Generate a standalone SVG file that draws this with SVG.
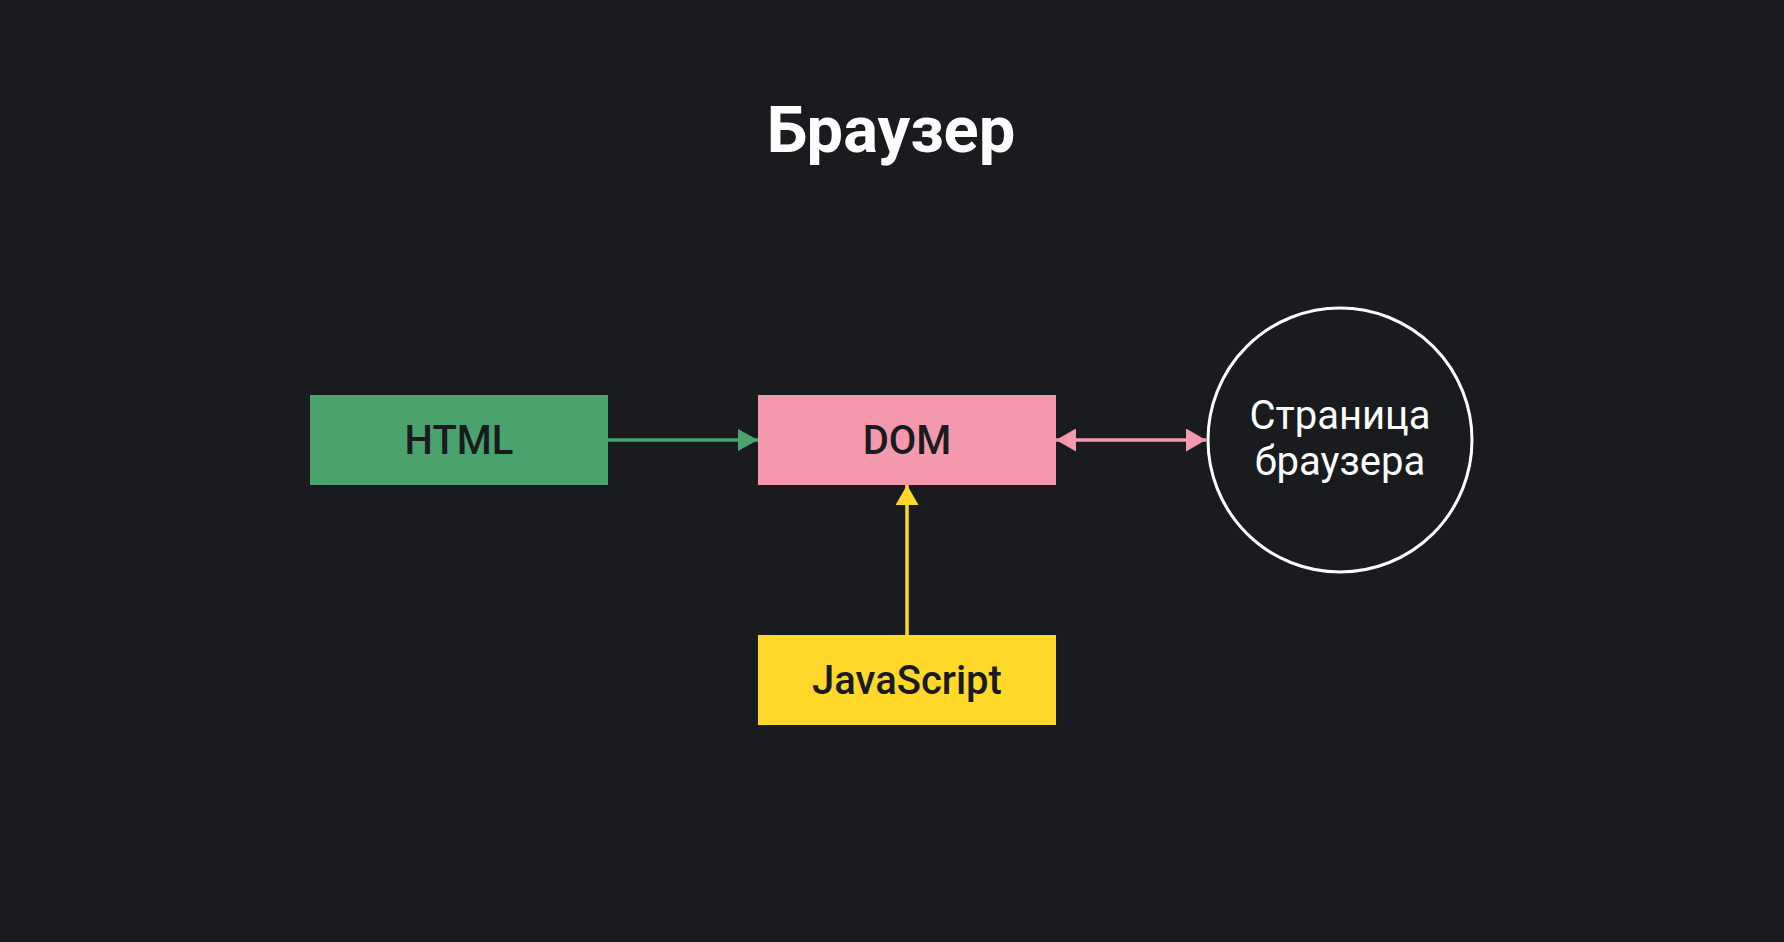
<svg xmlns="http://www.w3.org/2000/svg" width="1784" height="942" viewBox="0 0 1784 942">
<style>
.lbl{font-family:Roboto,"Liberation Sans",sans-serif;font-size:40px;font-weight:500;fill:#1a1b1f;text-anchor:middle}
.wt{font-family:Roboto,"Liberation Sans",sans-serif;font-size:40px;font-weight:400;fill:#ffffff;text-anchor:middle}
.title{font-family:Roboto,"Liberation Sans",sans-serif;font-size:65px;font-weight:700;fill:#ffffff;text-anchor:middle}
</style>
<defs>
<marker id="ag" markerUnits="userSpaceOnUse" markerWidth="20" markerHeight="22" refX="20" refY="11" orient="auto"><path d="M0,0 L20,11 L0,22 Z" fill="#4aa36d"/></marker>
<marker id="ap" markerUnits="userSpaceOnUse" markerWidth="20" markerHeight="23" refX="20" refY="11.5" orient="auto-start-reverse"><path d="M0,0 L20,11.5 L0,23 Z" fill="#f498ae"/></marker>
<marker id="ay" markerUnits="userSpaceOnUse" markerWidth="20" markerHeight="23" refX="20" refY="11.5" orient="auto"><path d="M0,0 L20,11.5 L0,23 Z" fill="#ffd829"/></marker>
</defs>
<rect width="1784" height="942" fill="#1a1b1f"/>
<text class="title" x="891" y="152">Браузер</text>
<g id="connectors">
<line x1="608" y1="440" x2="758" y2="440" stroke="#4aa36d" stroke-width="3.5" marker-end="url(#ag)"/>
<line x1="1056" y1="440" x2="1206" y2="440" stroke="#f498ae" stroke-width="3.5" marker-start="url(#ap)" marker-end="url(#ap)"/>
<line x1="907" y1="635" x2="907" y2="485" stroke="#ffd829" stroke-width="3.5" marker-end="url(#ay)"/>
</g>
<g id="html">
<rect x="310" y="395" width="298" height="90" fill="#4aa36d"/>
<text class="lbl" x="459" y="454">HTML</text>
</g>
<g id="dom">
<rect x="758" y="395" width="298" height="90" fill="#f498ae"/>
<text class="lbl" x="907" y="454">DOM</text>
</g>
<g id="js">
<rect x="758" y="635" width="298" height="90" fill="#ffd829"/>
<text class="lbl" x="907" y="694">JavaScript</text>
</g>
<g id="page">
<circle cx="1340" cy="440" r="132" fill="none" stroke="#ffffff" stroke-width="3"/>
<text class="wt" x="1340" y="429">Страница</text>
<text class="wt" x="1340" y="475">браузера</text>
</g>
</svg>
